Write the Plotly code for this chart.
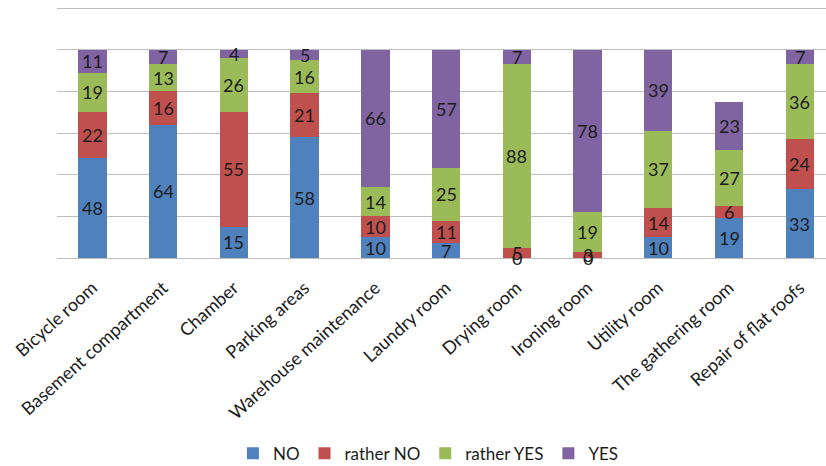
import plotly.graph_objects as go

categories = ["Bicycle room", "Basement compartment", "Chamber", "Parking areas",
              "Warehouse maintenance", "Laundry room", "Drying room", "Ironing room",
              "Utility room", "The gathering room", "Repair of flat roofs"]
no = [48, 64, 15, 58, 10, 7, 0, 0, 10, 19, 33]
rather_no = [22, 16, 55, 21, 10, 11, 5, 3, 14, 6, 24]
rather_yes = [19, 13, 26, 16, 14, 25, 88, 19, 37, 27, 36]
yes = [11, 7, 4, 5, 66, 57, 7, 78, 39, 23, 7]

series = [("NO", no, "#4F81BD"), ("rather NO", rather_no, "#C0504D"),
          ("rather YES", rather_yes, "#9BBB59"), ("YES", yes, "#8064A2")]

FONT = "Lato"
fig = go.Figure()
annotations = []
base = [0] * len(categories)
for name, vals, color in series:
    fig.add_trace(go.Bar(x=categories, y=vals, name=name, marker_color=color,
                         marker_line_width=0))
    for i, v in enumerate(vals):
        annotations.append(dict(x=categories[i], y=base[i] + v / 2, text=str(v),
                                showarrow=False, xref="x", yref="y",
                                font=dict(family=FONT, size=18, color="#1c1c1c")))
        base[i] += v

fig.update_layout(
    barmode="stack", bargap=0.6,
    width=826, height=466,
    margin=dict(l=57, r=0, t=7, b=208, autoexpand=False),
    paper_bgcolor="white", plot_bgcolor="white",
    font=dict(family=FONT, size=18, color="#1c1c1c"),
    annotations=annotations,
    legend=dict(orientation="h", x=0.483, xanchor="center", y=-0.78, yanchor="middle",
                font=dict(family=FONT, size=17), itemwidth=30, traceorder="normal"),
    showlegend=True,
)
fig.update_xaxes(range=[-0.5, 10.37], tickangle=-42, showgrid=False, automargin=False,
                 tickfont=dict(family=FONT, size=18), ticks="", showline=False,
                 ticklabelstandoff=15)
fig.update_yaxes(range=[0, 120.5], tickvals=[0, 20, 40, 60, 80, 100, 120],
                 showgrid=True, gridcolor="#BEBEBE", automargin=False,
                 gridwidth=1, showticklabels=False, zeroline=True,
                 zerolinecolor="#BEBEBE", zerolinewidth=1)

fig.write_html("out.html")
